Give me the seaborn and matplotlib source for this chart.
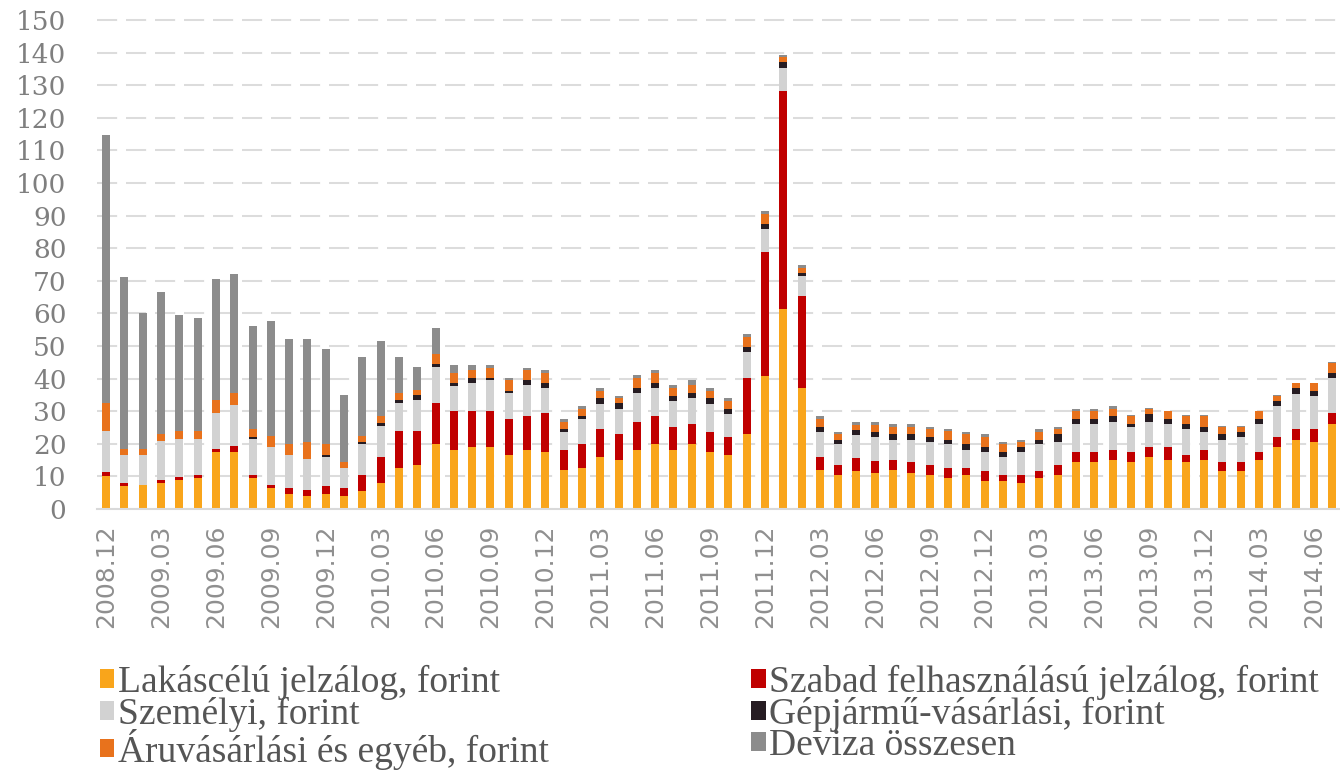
import numpy as np
import pandas as pd
import matplotlib
matplotlib.use("Agg")
import matplotlib.pyplot as plt
import seaborn as sns
from matplotlib.patches import Patch

# ---------------- data ----------------
months = list(pd.period_range("2008-12", "2014-07", freq="M").strftime("%Y.%m"))

lakas = [10.0, 7.2, 7.3, 8.1, 8.8, 9.5, 17.5, 17.4, 9.5, 6.5, 4.7, 4.0, 4.7, 4.0, 5.6, 8.0,
         12.7, 13.5, 19.9, 18.2, 18.9, 18.9, 16.6, 18.2, 17.4, 11.9, 12.7, 15.8, 15.0, 18.2,
         19.8, 18.2, 19.8, 17.4, 16.6, 23.0, 40.9, 61.3, 37.0, 11.9, 10.3, 11.7, 10.9, 11.9,
         11.1, 10.3, 9.5, 10.3, 8.7, 8.7, 7.9, 9.5, 10.3, 14.3, 14.3, 15.0, 14.3, 15.8, 15.0,
         14.3, 15.0, 11.8, 11.8, 15.0, 19.0, 21.3, 20.6, 26.1]
szabad = [1.5, 0.9, 0.0, 0.8, 0.9, 1.0, 0.9, 1.8, 1.0, 0.9, 1.7, 1.7, 2.5, 2.4, 4.8, 7.9,
          11.1, 10.3, 12.6, 11.8, 11.1, 11.1, 11.1, 10.3, 11.9, 6.3, 7.1, 8.7, 8.0, 8.6,
          8.7, 7.1, 6.3, 6.3, 5.5, 17.2, 37.8, 67.0, 28.4, 3.9, 3.2, 3.9, 3.9, 3.1,
          3.2, 3.2, 3.2, 2.4, 3.1, 1.6, 2.4, 2.3, 3.2, 3.1, 3.1, 3.2, 3.1, 3.2, 4.0,
          2.3, 3.2, 2.5, 2.5, 2.4, 3.1, 3.2, 3.9, 3.2]
szemelyi = [12.3, 8.6, 9.4, 11.9, 11.7, 10.9, 11.0, 12.6, 11.0, 11.7, 10.3, 9.5, 8.7, 6.3, 9.5, 9.5,
            8.8, 9.5, 11.1, 7.8, 8.8, 9.5, 7.8, 9.5, 7.8, 5.5, 7.9, 7.8, 7.8, 8.7,
            8.6, 7.9, 7.9, 8.6, 7.1, 8.0, 7.1, 7.0, 6.1, 7.9, 6.3, 7.2, 7.2, 6.3,
            7.0, 7.1, 7.1, 5.5, 5.6, 5.5, 7.1, 8.0, 7.1, 8.7, 8.7, 8.6, 7.9, 7.8, 7.1,
            7.9, 5.5, 7.0, 7.8, 8.7, 9.4, 10.9, 10.2, 11.0]
gepjarmu = [0.0, 0.0, 0.0, 0.0, 0.0, 0.0, 0.0, 0.0, 0.7, 0.0, 0.0, 0.0, 0.8, 0.0, 0.8, 0.9,
            0.8, 1.6, 0.8, 1.0, 1.3, 0.7, 0.8, 1.5, 1.6, 0.8, 0.8, 1.6, 1.6, 1.6,
            1.6, 1.5, 1.5, 1.7, 1.6, 1.5, 1.5, 1.7, 0.8, 1.5, 1.5, 1.5, 1.5, 1.6,
            1.6, 1.5, 1.5, 1.6, 1.6, 1.6, 1.6, 1.5, 2.3, 1.6, 1.6, 1.7, 0.8, 2.4, 1.6,
            1.6, 1.6, 1.7, 1.6, 1.6, 1.7, 1.6, 1.5, 1.5]
aru = [8.7, 1.7, 1.7, 2.3, 2.4, 2.4, 3.9, 3.9, 2.4, 3.2, 3.2, 5.5, 3.2, 1.7, 1.6, 2.3,
       2.3, 1.6, 3.2, 3.0, 2.6, 3.2, 3.2, 3.2, 3.1, 2.3, 2.3, 2.4, 1.6, 3.2,
       3.1, 2.4, 2.5, 2.3, 2.4, 3.2, 3.2, 1.5, 1.6, 2.4, 1.7, 1.6, 2.4, 2.4,
       2.4, 2.4, 2.5, 3.2, 3.1, 2.4, 1.6, 2.4, 1.6, 2.3, 2.3, 2.3, 2.4, 1.6, 2.3,
       2.4, 3.2, 2.2, 1.5, 2.3, 1.5, 1.6, 2.4, 3.1]
deviza = [82.2, 52.9, 41.8, 43.4, 35.7, 34.8, 37.2, 36.4, 31.6, 35.4, 32.4, 31.6, 29.2, 20.5, 24.4, 22.9,
          11.0, 7.1, 7.8, 2.4, 1.5, 0.8, 0.8, 0.7, 0.9, 0.9, 0.8, 0.8, 0.7, 0.7,
          0.9, 0.8, 1.5, 0.8, 0.8, 0.8, 0.8, 0.8, 0.8, 0.8, 0.7, 0.8, 0.8, 0.7,
          0.7, 0.7, 0.7, 0.7, 0.9, 0.8, 0.7, 0.8, 0.8, 0.8, 0.8, 0.8, 0.3, 0.2, 0.2,
          0.2, 0.2, 0.2, 0.2, 0.2, 0.2, 0.2, 0.2, 0.2]

series_names = ["Lakáscélú jelzálog, forint", "Szabad felhasználású jelzálog, forint",
                "Személyi, forint", "Gépjármű-vásárlási, forint",
                "Áruvásárlási és egyéb, forint", "Deviza összesen"]
colors = ["#F9A51B", "#C00000", "#D2D2D2", "#261C22", "#E8721C", "#8C8C8C"]

# ---------------- figure ----------------
sns.set_theme(style="white")
plt.rcParams["font.family"] = ["DejaVu Sans"]

W, H = 1340, 774
fig = plt.figure(figsize=(W / 100, H / 100), dpi=100)
px_per_unit = 3.26
y_zero_px = 509
ymax = 151.5
ax_left_px = 97
ax = fig.add_axes([ax_left_px / W, 1 - y_zero_px / H,
                   (W - ax_left_px) / W, ymax * px_per_unit / H])

values = np.array([lakas, szabad, szemelyi, gepjarmu, aru, deviza])
cum = np.cumsum(values, axis=0)
for k in reversed(range(len(series_names))):
    sns.barplot(x=months, y=cum[k], order=months, color=colors[k], saturation=1,
                width=0.44, errorbar=None, linewidth=0, ax=ax)

spacing_px = 18.3
ax.set_xlim(-0.5, -0.5 + (W - ax_left_px) / spacing_px)
ax.set_ylim(0, ymax)

ax.set_yticks(np.arange(0, 151, 10))
ax.set_yticklabels([str(v) for v in range(0, 151, 10)], family="DejaVu Serif",
                   fontsize=19, color="#7f7f7f")
ax.set_xticks(np.arange(0, len(months), 3))
ax.set_xticklabels(months[::3], rotation=90, fontsize=18, color="#8f8f8f",
                   family="DejaVu Sans")
ax.tick_params(axis="both", length=0)
ax.tick_params(axis="y", pad=22)
ax.tick_params(axis="x", pad=11)
ax.set_xlabel("")
ax.set_ylabel("")

ax.set_axisbelow(True)
ax.grid(axis="y", color="#dcdcdc", linewidth=1.45, linestyle=(0, (10, 4.4)))
ax.grid(axis="x", visible=False)
for side in ["top", "right", "left"]:
    ax.spines[side].set_visible(False)
ax.spines["bottom"].set_color("#d9d9d9")
ax.spines["bottom"].set_linewidth(1.5)

handles = [Patch(facecolor=c, edgecolor="none") for c in colors]
order = [0, 2, 4, 1, 3, 5]
leg = fig.legend([handles[i] for i in order], [series_names[i] for i in order],
                 ncol=2, loc="upper left", bbox_to_anchor=(100 / W, 1 - 665 / H),
                 frameon=False, prop={"family": "Liberation Serif", "size": 27},
                 handlelength=0.38, handleheight=0.38, handletextpad=0.1,
                 labelspacing=-0.09, columnspacing=5.4, borderaxespad=0, borderpad=0)
for t in leg.get_texts():
    t.set_color("#555555")

fig.savefig("out.png", dpi=100)
